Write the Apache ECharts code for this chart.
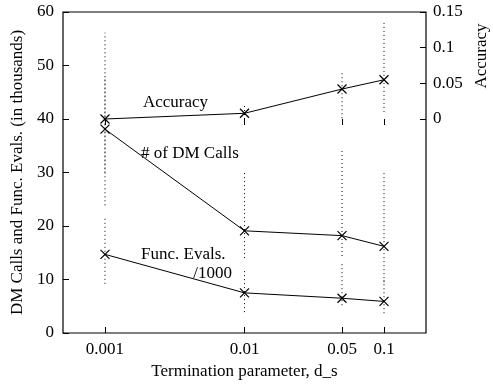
<!DOCTYPE html>
<html>
<head>
<meta charset="utf-8">
<script src="https://cdn.jsdelivr.net/npm/echarts@6/dist/echarts.min.js"></script>
<style>
  html, body { margin: 0; padding: 0; background: #fff; }
  #chart { width: 493px; height: 385px; }
</style>
</head>
<body>
<div id="chart"></div>
<script>
// termination parameter d_s (x, log scale)
var dsValues = [0.001, 0.01, 0.05, 0.1];
var xTicks = [0.001, 0.01, 0.05, 0.1];
var leftTicks = [0, 10, 20, 30, 40, 50, 60];
var rightTicks = [0, 0.05, 0.1, 0.15];

// accuracy (right axis) with its error range
var accuracy = [0.0, 0.008, 0.042, 0.055];
var accuracyLow = [-0.121, 0.0, 0.001, 0.01];
var accuracyHigh = [0.121, 0.021, 0.067, 0.139];

// # of DM calls (thousands)
var dmCalls = [38.1, 19.1, 18.2, 16.2];
var dmLow = [30, 14.0, 14.4, 9.5];
var dmHigh = [48, 30.0, 34.3, 30.2];

// func. evals / 1000 (thousands)
var funcEvals = [14.7, 7.5, 6.5, 5.9];
var funcLow = [9.2, 3.9, 5.2, 3.7];
var funcHigh = [21.7, 12.0, 12.9, 10.0];

var FONT = 'Liberation Serif';
var cross = 'path://M0,0L10,10M10,0L0,10';

function pairs(ys) {
  return dsValues.map(function (x, i) { return [x, ys[i]]; });
}
function ranges(lo, hi) {
  return dsValues.map(function (x, i) { return [x, lo[i], hi[i]]; });
}

function errorBar(params, api) {
  var x = api.value(0);
  var p1 = api.coord([x, api.value(1)]);
  var p2 = api.coord([x, api.value(2)]);
  return {
    type: 'line',
    shape: { x1: p1[0], y1: p1[1], x2: p2[0], y2: p2[1] },
    style: { stroke: '#000', lineWidth: 1, lineDash: [1, 3] }
  };
}

function lineSeries(name, ys, axisIndex) {
  return {
    name: name,
    type: 'line',
    yAxisIndex: axisIndex,
    data: pairs(ys),
    symbol: cross,
    symbolSize: 9,
    lineStyle: { color: '#000', width: 1 },
    itemStyle: { color: 'transparent', borderColor: '#000', borderWidth: 1.2 },
    z: 3
  };
}

function barSeries(lo, hi, axisIndex) {
  return {
    type: 'custom',
    yAxisIndex: axisIndex,
    renderItem: errorBar,
    encode: { x: 0, y: [1, 2] },
    data: ranges(lo, hi),
    silent: true,
    z: 2
  };
}

var chart = echarts.init(document.getElementById('chart'));

var textStyle = { fontFamily: FONT, fontSize: 17, color: '#000' };

function label(x, y, text, align) {
  return {
    type: 'text', x: x, y: y,
    style: { text: text, fontFamily: FONT, fontSize: 17, fill: '#000', align: align || 'left', verticalAlign: 'middle' }
  };
}

var option = {
  animation: false,
  textStyle: textStyle,
  grid: {
    left: 63, right: 67, top: 12, bottom: 47,
    show: true, borderColor: '#000', borderWidth: 1.2,
    containLabel: false
  },
  xAxis: [
    {
      type: 'log', min: 0.0005, max: 0.2, logBase: 10,
      position: 'bottom',
      name: 'Termination parameter, d_s',
      nameLocation: 'middle', nameGap: 30,
      nameTextStyle: textStyle,
      axisLine: { show: false },
      splitLine: { show: false },
      minorTick: { show: false },
      axisTick: { inside: true, length: 6, lineStyle: { color: '#000' }, customValues: xTicks },
      axisLabel: {
        margin: 8, fontFamily: FONT, fontSize: 17, color: '#000',
        customValues: xTicks,
        formatter: function (v) { return String(v); }
      }
    },
    {
      type: 'log', min: 0.0005, max: 0.2, logBase: 10,
      position: 'top',
      axisLine: { show: false },
      splitLine: { show: false },
      axisTick: { inside: true, length: 6, lineStyle: { color: '#000' }, customValues: xTicks },
      axisLabel: { show: false }
    }
  ],
  yAxis: [
    {
      type: 'value', min: 0, max: 60, interval: 10,
      position: 'left',
      name: 'DM Calls and Func. Evals. (in thousands)',
      nameLocation: 'middle', nameGap: 37,
      nameTextStyle: textStyle,
      axisLine: { show: false },
      splitLine: { show: false },
      axisTick: { show: true, inside: true, length: 6, lineStyle: { color: '#000' }, customValues: leftTicks },
      axisLabel: { margin: 9, fontFamily: FONT, fontSize: 17, color: '#000', customValues: leftTicks }
    },
    {
      type: 'value', min: -0.3, max: 0.15, interval: 0.05,
      position: 'right',
      axisLine: { show: false },
      splitLine: { show: false },
      axisTick: { show: true, inside: true, length: 6, lineStyle: { color: '#000' }, customValues: rightTicks },
      axisLabel: {
        margin: 7, fontFamily: FONT, fontSize: 17, color: '#000',
        customValues: rightTicks,
        formatter: function (v) { return String(Math.round(v * 100) / 100); }
      }
    }
  ],
  graphic: [
    {
      type: 'text', x: 482, y: 56, rotation: Math.PI / 2,
      style: { text: 'Accuracy', fontFamily: FONT, fontSize: 17, fill: '#000', align: 'center', verticalAlign: 'middle' }
    },
    label(143, 103, 'Accuracy'),
    label(141, 154, '# of DM Calls'),
    label(141, 255, 'Func. Evals.'),
    label(232, 274, '/1000', 'right')
  ],
  series: [
    barSeries(accuracyLow, accuracyHigh, 1),
    barSeries(dmLow, dmHigh, 0),
    barSeries(funcLow, funcHigh, 0),
    lineSeries('Accuracy', accuracy, 1),
    lineSeries('# of DM Calls', dmCalls, 0),
    lineSeries('Func. Evals. /1000', funcEvals, 0)
  ]
};

chart.setOption(option);
</script>
</body>
</html>
